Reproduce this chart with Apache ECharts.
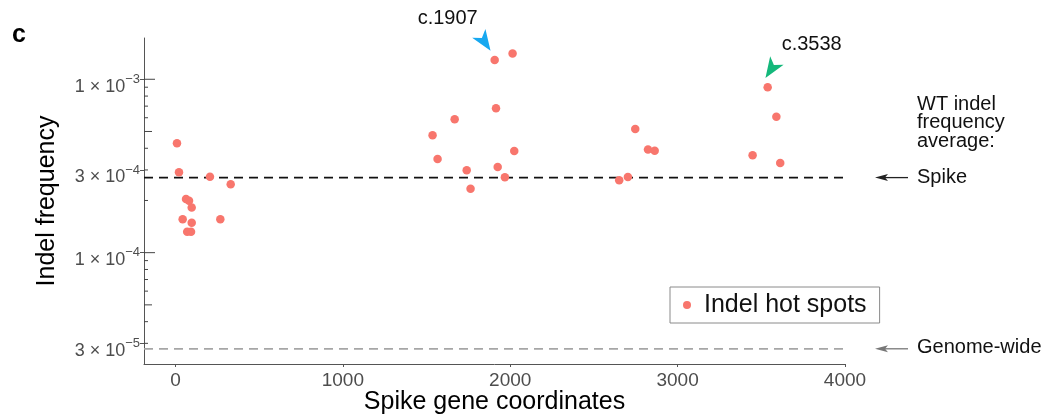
<!DOCTYPE html>
<html><head><meta charset="utf-8">
<script src="https://cdn.jsdelivr.net/npm/echarts@6/dist/echarts.min.js"></script>
<style>html,body{margin:0;padding:0;background:#fff}#c{width:1048px;height:417px}</style>
</head><body><div id="c"></div>
<script>
const FONT = "'Liberation Sans', Arial, Helvetica, sans-serif";

// Indel hot spots: spike gene coordinate and indel frequency
const hotspotX = [9, 21, 206, 330, 63, 81, 97, 43, 97, 268, 70, 93,
  1907, 2014, 1915, 1668, 1536, 1566, 2024, 1740, 1925, 1968, 1763,
  2747, 2823, 2863, 2651, 2703,
  3538, 3590, 3448, 3613];
const hotspotY = [4.28e-4, 2.91e-4, 2.74e-4, 2.48e-4, 2.04e-4, 1.99e-4, 1.82e-4, 1.56e-4, 1.49e-4, 1.56e-4, 1.32e-4, 1.32e-4,
  1.29e-3, 1.41e-3, 6.81e-4, 5.88e-4, 4.75e-4, 3.47e-4, 3.86e-4, 2.99e-4, 3.12e-4, 2.72e-4, 2.34e-4,
  5.17e-4, 3.94e-4, 3.87e-4, 2.62e-4, 2.73e-4,
  8.99e-4, 6.07e-4, 3.65e-4, 3.29e-4];

// WT indel frequency averages
const spikeAverage = 2.71e-4;
const genomeAverage = 2.79e-5;

// axes
const xMin = -188, xMax = 4000;
const yMin = 2.28e-5, yMax = 1.73e-3;
const xTickValues = [0, 1000, 2000, 3000, 4000];
const yLabelValues = [3e-5, 1e-4, 3e-4, 1e-3];
const yLogTickValues = [3e-5, 4e-5, 5e-5, 6e-5, 7e-5, 8e-5, 9e-5, 1e-4, 2e-4, 3e-4, 4e-4, 5e-4, 6e-4, 7e-4, 8e-4, 9e-4, 1e-3];

// annotated hot spots
const annotatedIndex = [12, 28];
const annotationText = ['c.1907', 'c.3538'];

const ARROW = 'path://M0,0 L8,21 L0,15.5 L-8,21 Z';

function mantExp(v) {
  const e = Math.floor(Math.log10(v) + 1e-9);
  const m = Math.round(v / Math.pow(10, e));
  return [m, e];
}

const chart = echarts.init(document.getElementById('c'), null, {renderer: 'canvas'});

function avgLine(name, value, color) {
  return {
    type: 'line', name: name, silent: true, z: 4, showSymbol: false, symbol: 'none',
    data: [[xMin, value], [xMax, value]],
    lineStyle: {color: color, type: [9, 6], width: 1.8}
  };
}

const option = {
  animation: false,
  backgroundColor: '#fff',
  textStyle: {fontFamily: FONT},
  grid: {left: 144, right: 203, top: 38, bottom: 53, containLabel: false, outerBoundsMode: 'none'},
  legend: {
    data: ['Indel hot spots'], left: 670, top: 287, selectedMode: false,
    borderColor: '#8a8a8a', borderWidth: 1, padding: [5, 13, 5, 13],
    itemWidth: 8, itemHeight: 8, icon: 'circle',
    textStyle: {fontSize: 25, lineHeight: 26, color: '#111', fontFamily: FONT, padding: [0, 0, 0, 8]}
  },
  xAxis: {
    type: 'value', min: xMin, max: xMax,
    axisLine: {show: true, onZero: false, lineStyle: {color: '#555', width: 1}},
    axisTick: {show: true, customValues: xTickValues, length: 3, lineStyle: {color: '#555'}},
    axisLabel: {customValues: xTickValues, fontSize: 19, color: '#4d4d4d', margin: 7, fontFamily: FONT,
      formatter: function (v) { return String(v); }},
    splitLine: {show: false},
    name: 'Spike gene coordinates', nameLocation: 'middle', nameGap: 26, nameMoveOverlap: false,
    nameTextStyle: {fontSize: 25, color: '#000', fontFamily: FONT}
  },
  yAxis: {
    type: 'log', logBase: 10, min: yMin, max: yMax,
    axisLine: {show: true, onZero: false, lineStyle: {color: '#555', width: 1}},
    axisTick: {show: true, customValues: yLabelValues, length: 4, lineStyle: {color: '#555'}},
    axisLabel: {
      customValues: yLabelValues, margin: 4, padding: [13, 0, 0, 0],
      formatter: function (v) {
        const me = mantExp(v);
        return '{m|' + me[0] + ' \u00d7 10}{e|\u2212' + (-me[1]) + '}';
      },
      rich: {
        m: {fontSize: 18, lineHeight: 20, color: '#4d4d4d', fontFamily: FONT, verticalAlign: 'bottom'},
        e: {fontSize: 13, lineHeight: 13, padding: [0, 0, 10, 0], color: '#4d4d4d', fontFamily: FONT, verticalAlign: 'bottom'}
      }
    },
    splitLine: {show: false}, minorTick: {show: false},
    name: 'Indel frequency', nameLocation: 'middle', nameGap: 84,
    nameTextStyle: {fontSize: 25, color: '#000', fontFamily: FONT}
  },
  series: [
    {
      type: 'custom', name: 'logticks', silent: true, z: 3, clip: false,
      data: yLogTickValues.map(v => [xMin, v]),
      renderItem: function (params, api) {
        const v = api.value(1);
        const p = api.coord([xMin, v]);
        const m = mantExp(v)[0];
        const len = m === 1 ? 11 : (m === 5 ? 8 : 4);
        return {type: 'line', shape: {x1: p[0], y1: p[1], x2: p[0] + len, y2: p[1]},
          style: {stroke: '#444', lineWidth: 1}};
      }
    },
    avgLine('Spike average', spikeAverage, '#111'),
    avgLine('Genome-wide average', genomeAverage, '#a6a6a6'),
    {
      type: 'scatter', name: 'Indel hot spots', z: 5,
      data: hotspotX.map((x, i) => [x, hotspotY[i]]),
      symbolSize: 8.5, itemStyle: {color: '#F8766D', opacity: 1},
      markPoint: {
        silent: true, animation: false,
        data: [
          {coord: [hotspotX[annotatedIndex[0]], hotspotY[annotatedIndex[0]]], symbol: ARROW, symbolSize: [16, 21],
            symbolRotate: -146, symbolOffset: [-10, -18], itemStyle: {color: '#17A8F0'}, label: {show: false}},
          {coord: [hotspotX[annotatedIndex[1]], hotspotY[annotatedIndex[1]]], symbol: ARROW, symbolSize: [16, 21],
            symbolRotate: 147, symbolOffset: [3.5, -18], itemStyle: {color: '#14B87B'}, label: {show: false}},
          {coord: [hotspotX[annotatedIndex[0]], hotspotY[annotatedIndex[0]]], symbol: 'circle', symbolSize: 1,
            itemStyle: {color: 'rgba(0,0,0,0)'},
            label: {show: true, formatter: annotationText[0], position: 'inside', offset: [-47, -42],
              fontSize: 20, color: '#111', fontFamily: FONT}},
          {coord: [hotspotX[annotatedIndex[1]], hotspotY[annotatedIndex[1]]], symbol: 'circle', symbolSize: 1,
            itemStyle: {color: 'rgba(0,0,0,0)'},
            label: {show: true, formatter: annotationText[1], position: 'inside', offset: [44, -43],
              fontSize: 20, color: '#111', fontFamily: FONT}}
        ]
      }
    }
  ]
};
chart.setOption(option);

const yS = chart.convertToPixel({yAxisIndex: 0}, spikeAverage);
const yG = chart.convertToPixel({yAxisIndex: 0}, genomeAverage);

function arrow(y, color) {
  return [
    {type: 'line', shape: {x1: 908, y1: y, x2: 882, y2: y}, style: {stroke: color, lineWidth: 1.3}},
    {type: 'polygon', shape: {points: [[875, y], [888, y - 3.5], [885, y], [888, y + 3.5]]}, style: {fill: color}}
  ];
}

chart.setOption({
  graphic: [
    {type: 'text', left: 12, top: 23, style: {text: 'c', fontSize: 25, fontWeight: 'bold', fontFamily: FONT, fill: '#000'}},
    ...arrow(yS, '#222'),
    ...arrow(yG, '#777'),
    {type: 'text', x: 917, y: yS, style: {text: 'Spike', fontSize: 20, fontFamily: FONT, fill: '#111', verticalAlign: 'middle'}},
    {type: 'text', x: 917, y: yG - 1, style: {text: 'Genome-wide', fontSize: 20, fontFamily: FONT, fill: '#111', verticalAlign: 'middle'}},
    {type: 'text', x: 917, y: 95, style: {text: 'WT indel\nfrequency\naverage:', fontSize: 20, lineHeight: 18.5, fontFamily: FONT, fill: '#111', verticalAlign: 'top'}}
  ]
});
</script>
</body></html>
